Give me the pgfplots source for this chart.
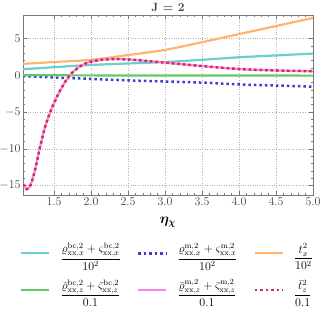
\documentclass[border=0pt]{standalone}
\usepackage{pgfplots}
\pgfplotsset{compat=1.18}
\usepackage{amsmath,bm}
\definecolor{ccyan}{RGB}{110,205,205}
\definecolor{corange}{RGB}{255,180,110}
\definecolor{cgreen}{RGB}{100,200,100}
\definecolor{cblue}{RGB}{60,60,210}
\definecolor{cpink}{RGB}{255,130,240}
\definecolor{cred}{RGB}{200,50,70}
\definecolor{ctitle}{RGB}{80,60,40}
\definecolor{caxis}{RGB}{120,120,120}
\begin{document}
\begin{tikzpicture}
\begin{axis}[
  name=ax,
  at={(0,0)}, anchor=south west,
  scale only axis, width=290bp, height=180bp,
  xmin=1.08, xmax=5.0, ymin=-16.3, ymax=8.2,
  xtick={1.5,2.0,...,5.0},
  xticklabels={1.5,2.0,2.5,3.0,3.5,4.0,4.5,5.0},
  ytick={-15,-10,-5,0,5},
  minor x tick num=4, minor y tick num=4,
  tick align=inside,
  major tick length=4bp, minor tick length=2bp,
  axis line style={caxis},
  every tick/.style={caxis},
  ticklabel style={text=black!75, font=\large},
  xticklabel style={yshift=1bp},
  yticklabel style={xshift=1bp},
  grid=major,
  major grid style={dotted, black!30},
  legend columns=3,
  legend style={draw=none, fill=none, inner sep=0pt, font=\large,
    at={(axis description cs:-0.01,-0.255)}, anchor=north west,
    row sep=12bp,
    /tikz/every even column/.append style={column sep=14bp},
    /tikz/every odd column/.append style={column sep=8bp}},
  legend cell align=left,
  legend image code/.code={\draw[#1] (0bp,0bp) -- (28bp,0bp);},
]
\addplot[ccyan, line width=2.2bp, smooth] coordinates {
(1.08,0.82)(1.5,1.1)(2.0,1.4)(2.5,1.6)(3.0,1.8)(3.5,2.1)(4.0,2.45)(4.5,2.7)(5.0,2.95)};
\addlegendentry{$\dfrac{\varrho^{\mathrm{bc},2}_{\mathrm{xx},x}+\varsigma^{\mathrm{bc},2}_{\mathrm{xx},x}}{10^2}$}
\addplot[cblue, line width=2.5bp, dash pattern=on 2.5bp off 3bp, smooth] coordinates {
(1.08,-0.1)(1.5,-0.3)(2.0,-0.5)(2.5,-0.7)(3.0,-0.85)(3.5,-1.0)(4.0,-1.25)(4.5,-1.4)(5.0,-1.55)};
\addlegendentry{$\dfrac{\varrho^{\mathrm{m},2}_{\mathrm{xx},x}+\varsigma^{\mathrm{m},2}_{\mathrm{xx},x}}{10^2}$}
\addplot[corange, line width=2.2bp, smooth] coordinates {
(1.08,1.55)(1.5,1.8)(2.0,2.1)(2.5,2.75)(3.0,3.45)(3.5,4.5)(4.0,5.6)(4.5,6.7)(5.0,7.8)};
\addlegendentry{$\dfrac{t_x^2}{10^2}$}
\addplot[cgreen, line width=2.2bp, smooth] coordinates {
(1.08,0.0)(2.0,-0.02)(3.0,-0.03)(4.0,-0.04)(5.0,-0.05)};
\addlegendentry{$\dfrac{\bar{\varrho}^{\mathrm{bc},2}_{\mathrm{xx},z}+\bar{\varsigma}^{\mathrm{bc},2}_{\mathrm{xx},z}}{0.1}$}
\addplot[cpink, line width=2.2bp, smooth] coordinates {
(1.08,-14.8)(1.13,-15.5)(1.18,-15.0)(1.24,-13.0)(1.31,-9.8)(1.38,-7.0)(1.46,-4.7)(1.56,-2.5)(1.65,-0.9)(1.74,0.3)(1.85,1.2)(1.96,1.75)(2.14,2.1)(2.3,2.2)(2.5,2.15)(2.75,1.95)(3.0,1.72)(3.5,1.25)(4.0,0.85)(4.5,0.65)(5.0,0.55)};
\addlegendentry{$\dfrac{\bar{\varrho}^{\mathrm{m},2}_{\mathrm{xx},z}+\bar{\varsigma}^{\mathrm{m},2}_{\mathrm{xx},z}}{0.1}$}
\addplot[cred, line width=2.5bp, dash pattern=on 2.5bp off 3bp, smooth] coordinates {
(1.08,-14.8)(1.13,-15.5)(1.18,-15.0)(1.24,-13.0)(1.31,-9.8)(1.38,-7.0)(1.46,-4.7)(1.56,-2.5)(1.65,-0.9)(1.74,0.3)(1.85,1.2)(1.96,1.75)(2.14,2.1)(2.3,2.2)(2.5,2.15)(2.75,1.95)(3.0,1.72)(3.5,1.25)(4.0,0.85)(4.5,0.65)(5.0,0.55)};
\addlegendentry{$\dfrac{\bar{t}_z^2}{0.1}$}
\end{axis}
\node[anchor=base, yshift=3.5bp, text=ctitle, inner sep=0pt, font=\large\bfseries] at (ax.north) {J = 2};
\node[anchor=center, yshift=-27bp, inner sep=0pt, font=\Large] at (ax.south) {$\bm{\eta_\chi}$};
\pgfresetboundingbox
\path (-23bp,-125bp) rectangle (301bp,195bp);
\end{tikzpicture}
\end{document}
